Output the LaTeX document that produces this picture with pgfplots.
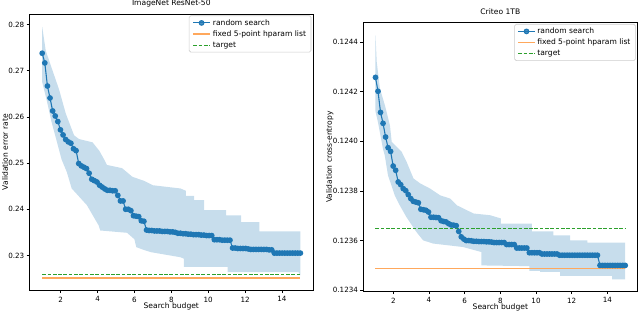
\documentclass[border=0pt]{standalone}
\usepackage{fontspec}
\setmainfont{DejaVu Sans}
\usepackage{pgfplots}
\pgfplotsset{compat=1.18}
\usepgfplotslibrary{fillbetween}
\definecolor{tabblue}{HTML}{1F77B4}
\definecolor{taborange}{HTML}{FF7F0E}
\definecolor{lightorange}{HTML}{FFA85C}
\definecolor{tabgreen}{HTML}{2CA02C}
\pgfplotsset{
  legend image code/.code={\draw[mark repeat=2,mark phase=2,#1] plot coordinates {(0bp,0bp) (8.3bp,0bp) (16.6bp,0bp)};},
  common/.style={
    scale only axis,
    axis line style={line width=0.6bp, black},
    tick style={line width=0.6bp, black},
    major tick length=2.7bp,
    tick align=outside,
    xtick pos=left, ytick pos=left,
    xmin=0.3, xmax=15.7,
    xtick={2,4,6,8,10,12,14},
    /pgf/number format/assume math mode=true,
    ticklabel style={font=\fontsize{7.2}{8}\selectfont},
    yticklabel style={xshift=1.2bp},
    label style={font=\fontsize{7.6}{9}\selectfont, inner sep=0pt},
    title style={font=\fontsize{7.6}{9}\selectfont, inner sep=0pt, at={(axis description cs:0.5,1)}, anchor=base, yshift=2.4bp},
    xlabel style={at={(axis description cs:0.5,0)}, anchor=base, yshift=-18.5bp},
    legend style={at={(1,1)}, anchor=north east, xshift=-2bp, yshift=-1.5bp,
      draw=black!20, line width=0.6bp, rounded corners=1.5bp, fill=white, fill opacity=0.8, text opacity=1,
      font=\fontsize{7.6}{9}\selectfont, inner xsep=3bp, inner ysep=1.5bp, row sep=0bp},
    legend cell align=left,
  }
}
\begin{document}
\begin{tikzpicture}
\path (-29.3bp,-21bp) rectangle (610.7bp,285bp);
% ---------------- left: ImageNet ResNet-50
\begin{axis}[common, at={(0bp,0bp)}, anchor=south west, width=284bp, height=276.5bp,
  ymin=0.2224, ymax=0.2823,
  ytick={0.23,0.24,0.25,0.26,0.27,0.28},
  yticklabel style={/pgf/number format/.cd, fixed, fixed zerofill, precision=2},
  title={ImageNet ResNet-50}, xlabel={Search budget}, ylabel={Validation error rate},
  ylabel style={at={(axis description cs:-0.0856,0.5)}, anchor=center},
]
\addplot[name path=upA, draw=none, forget plot] coordinates {
(1.0,0.2795) (1.19,0.2744) (1.46,0.2712) (1.91,0.2660) (2.28,0.2607) (2.73,0.2560) (3.0,0.2552) (3.73,0.2545) (4.09,0.2527) (4.33,0.2510) (4.51,0.2496) (5.33,0.2489) (5.9,0.2470) (6.5,0.2462) (7.0,0.2452) (8.5,0.2445) (8.79,0.2440) (8.79,0.2429) (9.24,0.2429) (9.24,0.2420) (9.78,0.2420) (9.78,0.2398) (10.97,0.2398) (10.97,0.2387) (11.79,0.2387) (11.79,0.2372) (12.78,0.2372) (12.78,0.2352) (15,0.2352)};
\addplot[name path=loA, draw=none, forget plot] coordinates {
(1.0,0.2675) (1.25,0.2635) (1.5,0.2590) (1.75,0.2553) (2.05,0.2508) (2.33,0.2481) (2.6,0.2445) (3.42,0.2409) (4.06,0.2365) (4.15,0.2354) (5.6,0.2349) (6.0,0.2335) (6.1,0.2318) (6.5,0.2312) (6.9,0.2307) (8.5,0.2296) (8.68,0.2293) (8.68,0.2275) (11.06,0.2275) (11.06,0.2264) (14.9,0.2264) (15,0.2257)};
\addplot[fill=tabblue, fill opacity=0.25, draw=none, forget plot] fill between[of=upA and loA];
\addplot[tabblue, line width=1.1bp, mark=*, mark size=2.3bp] table {
1.000 0.2738
1.141 0.2717
1.283 0.2667
1.424 0.2641
1.566 0.2613
1.707 0.2602
1.848 0.2590
1.990 0.2572
2.131 0.2561
2.273 0.2551
2.414 0.2546
2.556 0.2543
2.697 0.2531
2.838 0.2527
2.980 0.2499
3.121 0.2494
3.263 0.2491
3.404 0.2488
3.545 0.2478
3.687 0.2465
3.828 0.2462
3.970 0.2459
4.111 0.2452
4.253 0.2448
4.394 0.2444
4.535 0.2441
4.677 0.2441
4.818 0.2440
4.960 0.2440
5.101 0.2430
5.242 0.2418
5.384 0.2418
5.525 0.2400
5.667 0.2400
5.808 0.2397
5.949 0.2386
6.091 0.2385
6.232 0.2384
6.374 0.2375
6.515 0.2374
6.657 0.2355
6.798 0.2354
6.939 0.2354
7.081 0.2353
7.222 0.2353
7.364 0.2353
7.505 0.2352
7.646 0.2352
7.788 0.2352
7.929 0.2351
8.071 0.2351
8.212 0.2350
8.354 0.2348
8.495 0.2348
8.636 0.2347
8.778 0.2347
8.919 0.2346
9.061 0.2346
9.202 0.2345
9.343 0.2345
9.485 0.2345
9.626 0.2344
9.768 0.2344
9.909 0.2343
10.051 0.2343
10.192 0.2343
10.333 0.2334
10.475 0.2334
10.616 0.2334
10.758 0.2333
10.899 0.2333
11.040 0.2333
11.182 0.2333
11.323 0.2316
11.465 0.2316
11.606 0.2315
11.747 0.2315
11.889 0.2315
12.030 0.2315
12.172 0.2314
12.313 0.2313
12.455 0.2313
12.596 0.2313
12.737 0.2313
12.879 0.2313
13.020 0.2313
13.162 0.2313
13.303 0.2312
13.444 0.2312
13.586 0.2305
13.727 0.2305
13.869 0.2305
14.010 0.2305
14.152 0.2305
14.293 0.2305
14.434 0.2305
14.576 0.2305
14.717 0.2305
14.859 0.2305
15.000 0.2305
};
\addlegendentry{random search}
\addplot[lightorange, line width=2.2bp] coordinates {(1,0.22507) (15,0.22507)};
\addlegendentry{fixed 5-point hparam list}
\addplot[tabgreen, line width=1bp, dash pattern=on 3.7bp off 1.6bp] coordinates {(1,0.2258) (15,0.2258)};
\addlegendentry{target}
\end{axis}
% ---------------- right: Criteo 1TB
\begin{axis}[common, at={(333.7bp,-1bp)}, anchor=south west, width=274.7bp, height=269bp,
  ymin=0.123395, ymax=0.124478,
  ytick={0.1234,0.1236,0.1238,0.1240,0.1242,0.1244},
  yticklabel style={/pgf/number format/.cd, fixed, fixed zerofill, precision=4},
  title={Criteo 1TB}, xlabel={Search budget}, ylabel={Validation cross-entropy},
  ylabel style={at={(axis description cs:-0.1212,0.5)}, anchor=center},
]
\addplot[name path=upB, draw=none, forget plot] coordinates {
(1.0,0.124426) (1.07,0.124319) (1.25,0.124212) (1.53,0.124144) (1.81,0.124064) (1.91,0.123997) (2.47,0.123957) (2.75,0.123916) (3.13,0.12385) (3.51,0.12383) (4.07,0.123809) (4.63,0.123782) (5.19,0.123769) (5.56,0.123742) (6.50,0.123709) (7.43,0.123702) (8.03,0.123689) (8.03,0.123668) (9.76,0.123668) (9.76,0.123637) (10.97,0.123637) (10.97,0.123621) (11.91,0.123621) (11.91,0.123601) (12.88,0.123601) (12.88,0.123592) (15,0.123592)};
\addplot[name path=loB, draw=none, forget plot] coordinates {
(1.0,0.12412) (1.14,0.124076) (1.42,0.123969) (1.52,0.123943) (1.70,0.123863) (2.08,0.123782) (2.36,0.123742) (2.73,0.123695) (3.29,0.123635) (3.67,0.123601) (4.23,0.123588) (5.91,0.123574) (6.93,0.123554) (6.93,0.1235) (9.63,0.123497) (9.63,0.123478) (10.23,0.123478) (10.23,0.123474) (11.35,0.123474) (11.35,0.123458) (14.27,0.123458) (14.27,0.123444) (15,0.123444)};
\addplot[fill=tabblue, fill opacity=0.25, draw=none, forget plot] fill between[of=upB and loB];
\addplot[tabblue, line width=1.1bp, mark=*, mark size=2.3bp] table {
1.000 0.124257
1.141 0.124201
1.283 0.124116
1.424 0.124072
1.566 0.124017
1.707 0.123974
1.848 0.123959
1.990 0.123900
2.131 0.123883
2.273 0.123836
2.414 0.123825
2.556 0.123809
2.697 0.123801
2.838 0.123785
2.980 0.123769
3.121 0.123758
3.263 0.123755
3.404 0.123752
3.545 0.123726
3.687 0.123724
3.828 0.123722
3.970 0.123715
4.111 0.123694
4.253 0.123694
4.394 0.123693
4.535 0.123692
4.677 0.123680
4.818 0.123677
4.960 0.123675
5.101 0.123668
5.242 0.123663
5.384 0.123662
5.525 0.123660
5.667 0.123637
5.808 0.123615
5.949 0.123606
6.091 0.123600
6.232 0.123600
6.374 0.123599
6.515 0.123597
6.657 0.123597
6.798 0.123596
6.939 0.123596
7.081 0.123596
7.222 0.123595
7.364 0.123595
7.505 0.123594
7.646 0.123592
7.788 0.123592
7.929 0.123592
8.071 0.123592
8.212 0.123592
8.354 0.123584
8.495 0.123584
8.636 0.123584
8.778 0.123584
8.919 0.123570
9.061 0.123570
9.202 0.123570
9.343 0.123570
9.485 0.123570
9.626 0.123551
9.768 0.123551
9.909 0.123551
10.051 0.123551
10.192 0.123551
10.333 0.123546
10.475 0.123546
10.616 0.123546
10.758 0.123546
10.899 0.123546
11.040 0.123546
11.182 0.123546
11.323 0.123541
11.465 0.123541
11.606 0.123541
11.747 0.123541
11.889 0.123541
12.030 0.123541
12.172 0.123541
12.313 0.123541
12.455 0.123541
12.596 0.123541
12.737 0.123541
12.879 0.123541
13.020 0.123541
13.162 0.123541
13.303 0.123541
13.444 0.123541
13.586 0.123500
13.727 0.123500
13.869 0.123500
14.010 0.123500
14.152 0.123500
14.293 0.123500
14.434 0.123500
14.576 0.123500
14.717 0.123500
14.859 0.123500
15.000 0.123500
};
\addlegendentry{random search}
\addplot[lightorange, line width=1.1bp] coordinates {(1,0.123487) (15,0.123487)};
\addlegendentry{fixed 5-point hparam list}
\addplot[tabgreen, line width=1bp, dash pattern=on 3.7bp off 1.6bp] coordinates {(1,0.123648) (15,0.123648)};
\addlegendentry{target}
\end{axis}
\end{tikzpicture}
\end{document}
